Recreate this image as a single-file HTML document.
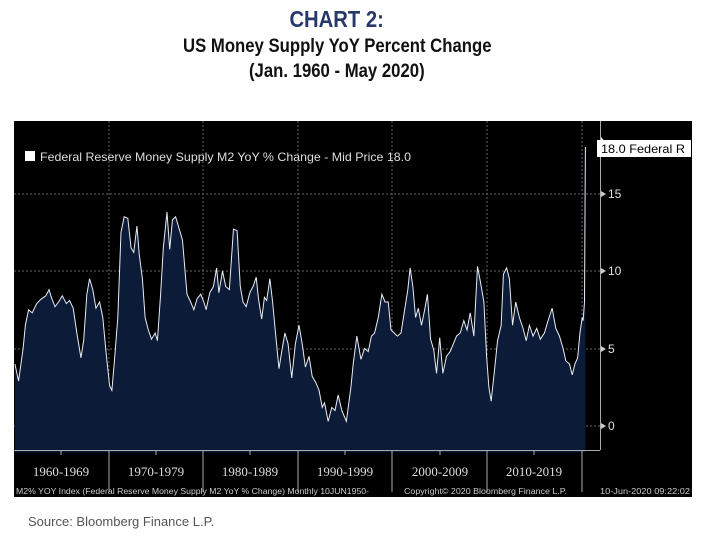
<!DOCTYPE html>
<html><head><meta charset="utf-8"><style>
body{margin:0;width:705px;height:540px;background:#fff;position:relative;overflow:hidden;font-family:"Liberation Sans",sans-serif}
.t{position:absolute;left:0;width:674px;text-align:center;font-weight:bold;white-space:nowrap}
.t span{display:inline-block;transform:scaleX(0.88);transform-origin:center}
</style></head><body>
<div class="t" style="top:6px;font-size:23px;color:#27386b"><span>CHART 2:</span></div>
<div class="t" style="top:36px;font-size:19px;color:#111"><span>US Money Supply YoY Percent Change</span></div>
<div class="t" style="top:61px;font-size:19px;color:#111"><span>(Jan. 1960 - May 2020)</span></div>
<svg style="position:absolute;left:0;top:0" width="705" height="540">
<rect x="14" y="121" width="678" height="376" fill="#000"/>
<g stroke="#666" stroke-dasharray="2,2" stroke-width="1">
<line x1="14" x2="600" y1="194" y2="194"/><line x1="14" x2="600" y1="271" y2="271"/>
<line x1="14" x2="600" y1="349" y2="349"/><line x1="14" x2="600" y1="426" y2="426"/>
<line x1="109" x2="109" y1="121" y2="450"/><line x1="203" x2="203" y1="121" y2="450"/>
<line x1="298" x2="298" y1="121" y2="450"/><line x1="392" x2="392" y1="121" y2="450"/>
<line x1="487" x2="487" y1="121" y2="450"/><line x1="582" x2="582" y1="121" y2="450"/>
</g>
<g transform="matrix(0.4553 0 0 -15.5 0.34 426)">
<path fill="#0c1b38" stroke="none" d="M32,-1.7 L32,4 40,2.9 50,5 55,6.5 62,7.5 70,7.3 80,7.9 90,8.2 100,8.4 107,8.8 112,8.3 120,7.7 128,8 136,8.4 145,7.9 152,8.1 160,7.6 168,6 177,4.4 183,5.5 190,8.5 196,9.5 203,8.8 210,7.6 218,8 225,7 232,4.8 240,2.6 245,2.3 250,4 258,7 265,12.5 272,13.5 280,13.4 287,11.5 293,11.2 300,12.9 305,11.1 312,9.5 318,7 325,6.2 332,5.6 340,6 345,5.5 352,8.5 358,11.5 366,13.8 372,11.4 378,13.3 385,13.5 392,12.8 400,12 410,8.5 418,8 425,7.5 432,8.2 440,8.5 447,8 452,7.5 460,8.6 468,9 475,10.2 480,8.6 488,10 495,9 503,8.8 512,12.7 520,12.6 527,9 533,8 540,7.7 548,8.6 555,9 562,9.6 567,8.2 574,6.9 580,8.3 585,8.1 592,9.5 598,8 605,5.8 612,3.7 618,4.8 625,6 632,5.3 640,3.1 648,5.3 656,6.5 663,5.3 670,3.8 678,4.5 685,3.2 693,2.8 700,2.3 707,1.2 712,1.5 720,0.3 728,1.2 735,1 742,2 750,1 760,0.3 770,2.5 775,4 783,5.8 792,4.3 800,5 808,4.8 815,5.8 822,6 830,7 838,8.5 845,8 852,8 858,6.2 865,6 872,5.8 880,6 888,7.5 895,8.8 900,10.2 906,9 912,7 918,7.6 925,6.5 932,7.5 938,8.5 945,5.6 952,4.9 958,3.4 965,5.7 972,3.4 980,4.5 988,4.8 995,5.3 1002,5.8 1010,6 1018,6.8 1025,6.2 1032,7.3 1040,5.8 1048,10.3 1055,9.2 1062,8 1068,4.5 1073,2.5 1078,1.6 1085,3.5 1092,5.5 1100,6.5 1105,9.8 1112,10.2 1118,9.5 1125,6.5 1132,8 1140,7 1148,6.3 1155,5.5 1162,6.5 1170,5.8 1178,6.3 1186,5.6 1195,6 1203,6.8 1212,7.6 1220,6.3 1228,5.8 1236,5 1242,4.2 1250,4 1256,3.3 1262,4 1268,4.4 1273,6 1278,7 1280,6.8 1283,8 1285,18 1285,-1.7 Z"/>
<path fill="none" stroke="#e8ecf4" stroke-width="1" vector-effect="non-scaling-stroke" d="M32,4 40,2.9 50,5 55,6.5 62,7.5 70,7.3 80,7.9 90,8.2 100,8.4 107,8.8 112,8.3 120,7.7 128,8 136,8.4 145,7.9 152,8.1 160,7.6 168,6 177,4.4 183,5.5 190,8.5 196,9.5 203,8.8 210,7.6 218,8 225,7 232,4.8 240,2.6 245,2.3 250,4 258,7 265,12.5 272,13.5 280,13.4 287,11.5 293,11.2 300,12.9 305,11.1 312,9.5 318,7 325,6.2 332,5.6 340,6 345,5.5 352,8.5 358,11.5 366,13.8 372,11.4 378,13.3 385,13.5 392,12.8 400,12 410,8.5 418,8 425,7.5 432,8.2 440,8.5 447,8 452,7.5 460,8.6 468,9 475,10.2 480,8.6 488,10 495,9 503,8.8 512,12.7 520,12.6 527,9 533,8 540,7.7 548,8.6 555,9 562,9.6 567,8.2 574,6.9 580,8.3 585,8.1 592,9.5 598,8 605,5.8 612,3.7 618,4.8 625,6 632,5.3 640,3.1 648,5.3 656,6.5 663,5.3 670,3.8 678,4.5 685,3.2 693,2.8 700,2.3 707,1.2 712,1.5 720,0.3 728,1.2 735,1 742,2 750,1 760,0.3 770,2.5 775,4 783,5.8 792,4.3 800,5 808,4.8 815,5.8 822,6 830,7 838,8.5 845,8 852,8 858,6.2 865,6 872,5.8 880,6 888,7.5 895,8.8 900,10.2 906,9 912,7 918,7.6 925,6.5 932,7.5 938,8.5 945,5.6 952,4.9 958,3.4 965,5.7 972,3.4 980,4.5 988,4.8 995,5.3 1002,5.8 1010,6 1018,6.8 1025,6.2 1032,7.3 1040,5.8 1048,10.3 1055,9.2 1062,8 1068,4.5 1073,2.5 1078,1.6 1085,3.5 1092,5.5 1100,6.5 1105,9.8 1112,10.2 1118,9.5 1125,6.5 1132,8 1140,7 1148,6.3 1155,5.5 1162,6.5 1170,5.8 1178,6.3 1186,5.6 1195,6 1203,6.8 1212,7.6 1220,6.3 1228,5.8 1236,5 1242,4.2 1250,4 1256,3.3 1262,4 1268,4.4 1273,6 1278,7 1280,6.8 1283,8 1285,18"/>
</g>
<line x1="14" x2="600" y1="450.5" y2="450.5" stroke="#aaa"/>
<line x1="600.5" x2="600.5" y1="121" y2="450" stroke="#aaa"/>
<g stroke="#aaa"><line x1="109" x2="109" y1="451" y2="492"/><line x1="203" x2="203" y1="451" y2="492"/><line x1="298" x2="298" y1="451" y2="492"/><line x1="392" x2="392" y1="451" y2="492"/><line x1="487" x2="487" y1="451" y2="492"/><line x1="582" x2="582" y1="451" y2="492"/>
<line x1="61" x2="61" y1="451" y2="455"/><line x1="156" x2="156" y1="451" y2="455"/><line x1="250" x2="250" y1="451" y2="455"/><line x1="345" x2="345" y1="451" y2="455"/><line x1="440" x2="440" y1="451" y2="455"/><line x1="534" x2="534" y1="451" y2="455"/></g>
<g fill="#ccc"><path d="M601,191 l5,3 -5,3z"/><path d="M601,268 l5,3 -5,3z"/><path d="M601,346 l5,3 -5,3z"/><path d="M601,423 l5,3 -5,3z"/><path d="M601,149 l5,-6 -5,-6z" fill="#fff"/></g>
<g font-family="Liberation Sans Narrow, Liberation Sans, sans-serif" fill="#e0e0e0" font-size="12">
<text x="608" y="198">15</text><text x="608" y="275">10</text><text x="608" y="353">5</text><text x="608" y="430">0</text>
</g>
<rect x="597" y="140" width="94" height="17" fill="#fff"/>
<text x="601" y="153" font-family="Liberation Sans" font-size="12" fill="#000" textLength="84" lengthAdjust="spacingAndGlyphs">18.0 Federal R</text>
<rect x="25" y="151" width="10" height="10" fill="#fff"/>
<text x="40" y="161" font-family="Liberation Sans" font-size="12" fill="#ddd" textLength="371" lengthAdjust="spacingAndGlyphs">Federal Reserve Money Supply M2 YoY % Change - Mid Price 18.0</text>
<g font-family="Liberation Serif, serif" font-size="13" fill="#ddd" text-anchor="middle">
<text x="61" y="476">1960-1969</text><text x="156" y="476">1970-1979</text><text x="250" y="476">1980-1989</text><text x="345" y="476">1990-1999</text><text x="440" y="476">2000-2009</text><text x="534" y="476">2010-2019</text>
</g>
<g font-family="Liberation Sans" font-size="8" fill="#ccc">
<text x="16" y="494" textLength="353" lengthAdjust="spacingAndGlyphs">M2% YOY Index (Federal Reserve Money Supply M2 YoY % Change) Monthly 10JUN1950-</text>
<text x="404" y="494" textLength="163" lengthAdjust="spacingAndGlyphs">Copyright© 2020 Bloomberg Finance L.P.</text>
<text x="600" y="494" textLength="90" lengthAdjust="spacingAndGlyphs">10-Jun-2020 09:22:02</text>
</g>
<text x="28" y="526" font-family="Liberation Sans" font-size="13" fill="#555">Source: Bloomberg Finance L.P.</text>
</svg>
</body></html>
